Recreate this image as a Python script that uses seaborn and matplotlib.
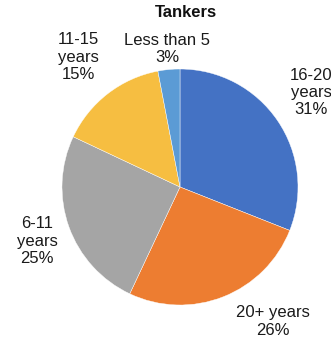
import matplotlib
matplotlib.use("Agg")
import matplotlib.pyplot as plt
import seaborn as sns

# Data
categories = ["16-20\nyears", "20+ years", "6-11\nyears", "11-15\nyears", "Less than 5"]
shares = [31, 26, 25, 15, 3]
colors = ["#4472C4", "#ED7D31", "#A5A5A5", "#F6BE41", "#5B9BD5"]

# label placement (data units, pie radius = 1)
label_pos = [(1.11, 0.80), (0.79, -1.14), (-1.21, -0.46), (-0.86, 1.10), (-0.11, 1.17)]

sns.set_theme(style="white")
plt.rcParams["font.family"] = ["Liberation Sans", "DejaVu Sans"]

fig = plt.figure(figsize=(3.31, 3.44), dpi=100)
ax = fig.add_axes([0, 0, 1, 1])

ax.pie(
    shares,
    colors=sns.color_palette(colors),
    startangle=90,
    counterclock=False,
    radius=1,
    wedgeprops=dict(edgecolor="white", linewidth=0.3),
)

for cat, val, (x, y) in zip(categories, shares, label_pos):
    ax.text(x, y, f"{cat}\n{val}%", ha="center", va="center",
            fontsize=12, color="#1a1a1a", linespacing=1.2)

ax.text(0.05, 1.48, "Tankers", ha="center", va="center",
        fontsize=12, fontweight="bold", color="#111111")

ax.set_xlim(-180 / 118, 151 / 118)
ax.set_ylim(-157 / 118, 187 / 118)
ax.set_aspect("equal")
ax.axis("off")

fig.savefig("out.png", dpi=100)
